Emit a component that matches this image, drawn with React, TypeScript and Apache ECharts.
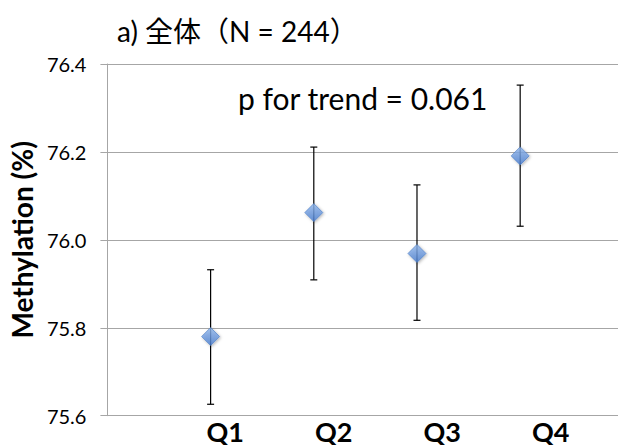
import React, { useEffect, useRef } from "react";
import * as echarts from "echarts";

const categories = ["Q1", "Q2", "Q3", "Q4"];
const xPositions = [1, 2, 3, 4];
const means = [75.78, 76.062, 75.969, 76.191];
const lower = [75.626, 75.909, 75.817, 76.031];
const upper = [75.932, 76.211, 76.125, 76.352];
const yTicks = [75.6, 75.8, 76.0, 76.2, 76.4];
const titleText = "a) 全体（N = 244）";
const annotation = "p for trend = 0.061";
const yName = "Methylation (%)";

const FONT = "Lato, 'Noto Sans CJK JP', sans-serif";

export default function App() {
  const ref = useRef<HTMLDivElement>(null);
  useEffect(() => {
    if (!ref.current) return;
    const chart = echarts.init(ref.current, undefined, { renderer: "svg" });
    const gridTop = 64;
    const gridBottom = 29.3;
    const option: any = {
      animation: false,
      title: [
        {
          text: titleText,
          left: 112,
          top: 12,
          textStyle: { fontFamily: FONT, fontSize: 28, fontWeight: "normal", color: "#000" },
        },
        {
          text: annotation,
          left: 233,
          top: 78,
          textStyle: { fontFamily: FONT, fontSize: 30, fontWeight: "normal", color: "#000" },
        },
      ],
      grid: [
        { left: 106.7, right: 0, top: gridTop, bottom: gridBottom },
        { left: 171, right: 13, top: gridTop, bottom: gridBottom },
      ],
      xAxis: [
        {
          type: "value",
          gridIndex: 0,
          min: 0,
          max: 4.948,
          show: false,
          splitLine: { show: false },
        },
        {
          type: "category",
          gridIndex: 1,
          data: categories,
          boundaryGap: true,
          axisLine: { show: false },
          axisTick: { show: false },
          axisLabel: {
            margin: 4,
            fontFamily: FONT,
            fontSize: 27,
            fontWeight: "bold",
            color: "#000",
          },
        },
      ],
      yAxis: [
        {
          type: "value",
          gridIndex: 0,
          min: yTicks[0],
          max: yTicks[yTicks.length - 1],
          interval: 0.2,
          name: yName,
          nameLocation: "middle",
          nameGap: 68,
          nameTextStyle: { fontFamily: FONT, fontSize: 28, fontWeight: "bold", color: "#000" },
          axisLine: { show: true, lineStyle: { color: "#a6a6a6", width: 1 } },
          axisTick: { show: true, inside: false, length: 7, lineStyle: { color: "#a6a6a6" } },
          axisLabel: {
            margin: 21,
            fontFamily: FONT,
            fontSize: 20,
            color: "#000",
            formatter: (v: number) => v.toFixed(1),
          },
          splitLine: { show: true, lineStyle: { color: "#a6a6a6", width: 1 } },
        },
        {
          type: "value",
          gridIndex: 1,
          min: yTicks[0],
          max: yTicks[yTicks.length - 1],
          show: false,
          splitLine: { show: false },
        },
      ],
      series: [
        {
          type: "custom",
          xAxisIndex: 0,
          yAxisIndex: 0,
          z: 2,
          data: xPositions.map((x, i) => [x, lower[i], upper[i]]),
          renderItem: (params: any, api: any) => {
            const x = api.value(0);
            const lo = api.coord([x, api.value(1)]);
            const hi = api.coord([x, api.value(2)]);
            const half = 3.5;
            const style = { stroke: "#000", lineWidth: 1.2 };
            return {
              type: "group",
              children: [
                { type: "line", shape: { x1: lo[0], y1: lo[1], x2: hi[0], y2: hi[1] }, style },
                { type: "line", shape: { x1: hi[0] - half, y1: hi[1], x2: hi[0] + half, y2: hi[1] }, style },
                { type: "line", shape: { x1: lo[0] - half, y1: lo[1], x2: lo[0] + half, y2: lo[1] }, style },
              ],
            };
          },
        },
        {
          type: "scatter",
          xAxisIndex: 0,
          yAxisIndex: 0,
          z: 3,
          symbol: "diamond",
          symbolSize: [18, 18],
          data: xPositions.map((x, i) => [x, means[i]]),
          itemStyle: {
            color: new echarts.graphic.LinearGradient(0, 0, 0, 1, [
              { offset: 0, color: "#93b9ee" },
              { offset: 1, color: "#4a7ed0" },
            ]),
            borderColor: "#4a7cc4",
            borderWidth: 0.8,
            shadowBlur: 3,
            shadowColor: "rgba(0,0,0,0.35)",
            shadowOffsetX: 1,
            shadowOffsetY: 1,
          },
        },
      ],
    };
    chart.setOption(option);
    return () => chart.dispose();
  }, []);
  return <div ref={ref} style={{ width: 618, height: 445, position: "absolute", left: 0, top: 0 }} />;
}
